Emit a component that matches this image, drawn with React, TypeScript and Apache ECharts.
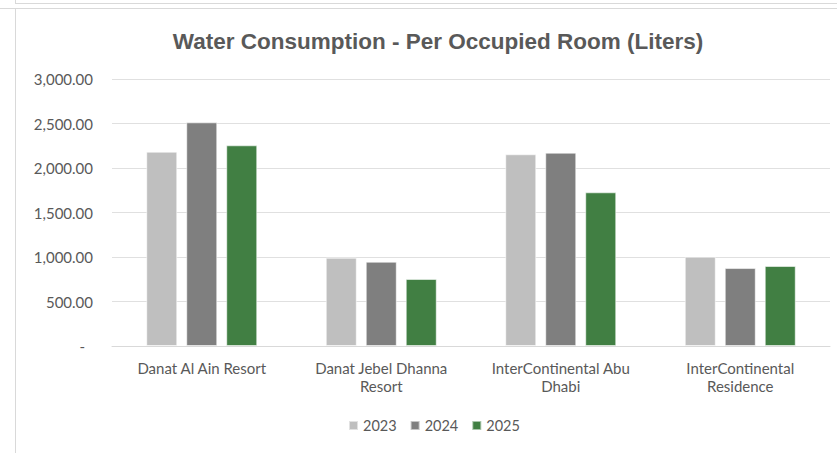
import React, { useEffect, useRef } from "react";
import * as echarts from "echarts";

const categories = [
  "Danat Al Ain Resort",
  "Danat Jebel Dhanna\nResort",
  "InterContinental Abu\nDhabi",
  "InterContinental\nResidence",
];
const years = ["2023", "2024", "2025"];
const values2023 = [2183, 992, 2154, 1003];
const values2024 = [2513, 947, 2172, 876];
const values2025 = [2255, 753, 1727, 899];
const colors = ["#BFBFBF", "#7F7F7F", "#417F43"];
const yTicks = { min: 0, max: 3000, interval: 500 };

const FONT = "Lato, 'Liberation Sans', sans-serif";
const TEXT = "#595959";

export default function App() {
  const ref = useRef<HTMLDivElement>(null);
  useEffect(() => {
    document.body.style.margin = "0";
    const chart = echarts.init(ref.current!, undefined, { renderer: "svg" });
    const seriesValues = [values2023, values2024, values2025];
    chart.setOption({
      animation: false,
      backgroundColor: "#ffffff",
      title: {
        text: "Water Consumption - Per Occupied Room (Liters)",
        left: 433,
        top: 25,
        textAlign: "center",
        textStyle: {
          fontFamily: "'Liberation Sans', Arial, sans-serif",
          fontWeight: "bold",
          fontSize: 22.5,
          color: TEXT,
        },
      },
      legend: {
        data: years,
        left: 343,
        top: 413,
        itemWidth: 9,
        itemHeight: 9,
        itemGap: 13,
        icon: "rect",
        textStyle: { fontFamily: FONT, fontSize: 14.5, color: TEXT },
      },
      grid: { left: 112, right: 7, top: 79, bottom: 107, containLabel: false },
      xAxis: {
        type: "category",
        data: categories,
        axisTick: { show: false },
        axisLine: { lineStyle: { color: "#d9d9d9", width: 1 } },
        axisLabel: {
          fontFamily: FONT,
          fontSize: 15,
          color: TEXT,
          lineHeight: 18,
          margin: 13,
          interval: 0,
        },
      },
      yAxis: {
        type: "value",
        min: yTicks.min,
        max: yTicks.max,
        interval: yTicks.interval,
        axisLine: { show: false },
        axisTick: { show: false },
        splitLine: { lineStyle: { color: "#e0e0e0", width: 1 } },
        axisLabel: {
          fontFamily: FONT,
          fontSize: 15,
          color: TEXT,
          margin: 19,
          formatter: (v: number) =>
            v === 0
              ? "{z|-}"
              : v.toLocaleString("en-US", { minimumFractionDigits: 2, maximumFractionDigits: 2 }),
          rich: {
            z: { fontFamily: FONT, fontSize: 15, color: TEXT, padding: [0, 8, 0, 0] },
          },
        },
      },
      series: years.map((y, i) => ({
        name: y,
        type: "bar",
        data: seriesValues[i],
        barWidth: 31,
        barGap: "29%",
        itemStyle: {
          color: colors[i],
          borderColor: "rgba(255,255,255,0.55)",
          borderWidth: 1,
        },
      })),
      graphic: [
        { type: "line", shape: { x1: 15, y1: 3.5, x2: 837, y2: 3.5 }, style: { stroke: "#d9d9d9", lineWidth: 1 } },
        { type: "line", shape: { x1: 0, y1: 8.5, x2: 837, y2: 8.5 }, style: { stroke: "#d9d9d9", lineWidth: 1 } },
        { type: "line", shape: { x1: 15.5, y1: 0, x2: 15.5, y2: 3 }, style: { stroke: "#d9d9d9", lineWidth: 1 } },
        { type: "line", shape: { x1: 15.5, y1: 8, x2: 15.5, y2: 453 }, style: { stroke: "#d9d9d9", lineWidth: 1 } },
      ],
    });
    return () => chart.dispose();
  }, []);
  return (
    <div
      ref={ref}
      style={{ position: "absolute", left: 0, top: 0, width: 837, height: 453 }}
    />
  );
}
